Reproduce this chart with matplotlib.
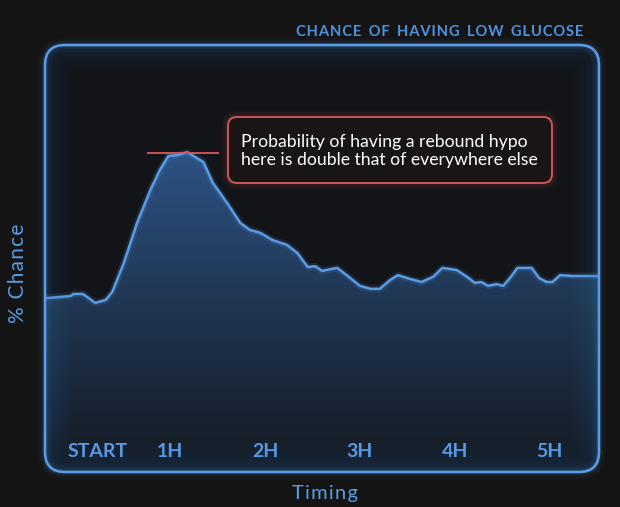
import numpy as np
import matplotlib
matplotlib.use("Agg")
import matplotlib.pyplot as plt
from matplotlib.patches import FancyBboxPatch
from matplotlib.transforms import IdentityTransform
from matplotlib.colors import LinearSegmentedColormap

# Data: time in hours, chance in % of the panel height
hours = [-0.32, -0.05, -0.02, 0.08, 0.21, 0.32, 0.39, 0.51, 0.65, 0.79, 0.89,
         0.98, 1.07, 1.18, 1.26, 1.35, 1.45, 1.60, 1.74, 1.84, 1.95, 2.08,
         2.23, 2.34, 2.45, 2.53, 2.60, 2.76, 2.86, 3.00, 3.11, 3.21, 3.32,
         3.40, 3.53, 3.65, 3.77, 3.87, 4.02, 4.13, 4.21, 4.28, 4.35, 4.44,
         4.51, 4.58, 4.66, 4.81, 4.89, 4.97, 5.03, 5.11, 5.24, 5.52]
chance = [40.7, 41.2, 41.7, 41.7, 39.6, 40.3, 42.2, 48.9, 58.3, 66.0, 70.7,
          74.0, 74.2, 74.9, 73.8, 72.6, 67.7, 63.0, 58.3, 56.7, 56.0, 54.3,
          53.2, 51.3, 48.0, 48.2, 47.1, 47.8, 46.1, 43.6, 42.9, 42.9, 45.0,
          46.1, 45.2, 44.5, 45.7, 47.8, 47.3, 45.7, 44.3, 44.5, 43.6, 44.0,
          43.6, 45.4, 47.8, 47.8, 45.4, 44.5, 44.5, 46.1, 45.9, 45.9]

tick_pos = [0.23, 1, 2, 3, 4, 5]
tick_labels = ["START", "1H", "2H", "3H", "4H", "5H"]

peak_level = 74.7
peak_span = (0.75, 1.51)

note = "Probability of having a rebound hypo\nhere is double that of everywhere else"
title = "CHANCE OF HAVING LOW GLUCOSE"

bg = "#141414"
blue = "#5a9de6"
red = "#d9585a"

W, H = 620, 507
fig = plt.figure(figsize=(W / 100, H / 100), dpi=100, facecolor=bg)

# panel position in pixels (from bottom-left)
px0, py0, pw, ph = 45, 35, 554, 427
ax = fig.add_axes([px0 / W, py0 / H, pw / W, ph / H])
ax.set_facecolor("none")
ax.set_xlim(-0.32, 5.52)
ax.set_ylim(0, 100)
for s in ax.spines.values():
    s.set_visible(False)
ax.set_yticks([])

box = "round,pad=0,rounding_size=20"

# rounded panel
panel = FancyBboxPatch((px0, py0), pw, ph, boxstyle=box,
                       transform=IdentityTransform(), facecolor="#131418",
                       edgecolor="none", zorder=0)
fig.add_artist(panel)

# outer glow of panel
for lw, a in [(10, 0.04), (6, 0.06), (3.5, 0.1)]:
    fig.add_artist(FancyBboxPatch((px0, py0), pw, ph, boxstyle=box,
                                  transform=IdentityTransform(), facecolor="none",
                                  edgecolor=blue, lw=lw, alpha=a, zorder=0.5))

# gradient fill under the curve
poly = ax.fill_between(hours, chance, 0, color="none", lw=0)
cmap = LinearSegmentedColormap.from_list("f", ["#151a22", "#1f3550", "#2d5386"])
grad = np.linspace(0, 1, 256).reshape(-1, 1)
img = ax.imshow(grad, cmap=cmap, aspect="auto", origin="lower",
                extent=[-0.32, 5.52, 0, 76], zorder=1)
img.set_clip_path(poly.get_paths()[0], transform=ax.transData)

# inner glow, clipped to the panel
for lw in np.linspace(40, 4, 12):
    g = FancyBboxPatch((px0, py0), pw, ph, boxstyle=box,
                       transform=IdentityTransform(), facecolor="none",
                       edgecolor="#4a86cc", lw=lw, alpha=0.016, zorder=2)
    fig.add_artist(g)
    g.set_clip_path(panel)

# curve
ax.plot(hours, chance, color=blue, lw=5, alpha=0.15, zorder=3)
ax.plot(hours, chance, color=blue, lw=1.8, zorder=4, solid_capstyle="round",
        solid_joinstyle="round")

# panel border
fig.add_artist(FancyBboxPatch((px0, py0), pw, ph, boxstyle=box,
                              transform=IdentityTransform(), facecolor="none",
                              edgecolor=blue, lw=1.8, zorder=5))

# red marker line at peak
ax.hlines(peak_level, peak_span[0], peak_span[1], color=red, lw=1.3, zorder=5)

# annotation box (pixels)
bx0, by0, bw, bh = 228, H - 183, 324, 66
for lw, a in [(9, 0.05), (5, 0.08)]:
    fig.add_artist(FancyBboxPatch((bx0, by0), bw, bh, boxstyle="round,pad=0,rounding_size=9",
                                  transform=IdentityTransform(), facecolor="none",
                                  edgecolor=red, lw=lw, alpha=a, zorder=6))
fig.add_artist(FancyBboxPatch((bx0, by0), bw, bh, boxstyle="round,pad=0,rounding_size=9",
                              transform=IdentityTransform(), facecolor="#1a1515",
                              edgecolor=red, lw=1.4, alpha=0.95, zorder=6))
fig.text(241 / W, 1 - 151 / H, note, color="white", fontsize=12.7, family="Lato",
         ha="left", va="center", linespacing=1.15, zorder=7)

# ticks inside the panel
ax.set_xticks(tick_pos, tick_labels)
ax.tick_params(axis="x", length=0, pad=-21, colors=blue, labelsize=14)
for t in ax.get_xticklabels():
    t.set_fontweight("bold")
    t.set_family("Lato")

# titles
fig.text(583 / W, 1 - 32 / H, "\u200a".join(title).replace("\u200a \u200a", "\u2002"),
         color="#4f92e0", fontsize=10.6, fontweight="bold", family="Lato",
         ha="right", va="center")
fig.text(325 / W, 1 - 493 / H, "\u200a".join("Timing"), color=blue, fontsize=14.5,
         family="Lato", ha="center", va="center")
fig.text(18 / W, 1 - 273 / H, "\u200a".join("% Chance"), color=blue, fontsize=15,
         family="Lato", ha="center", va="center", rotation=90)

fig.savefig("out.png", dpi=100, facecolor=bg)
